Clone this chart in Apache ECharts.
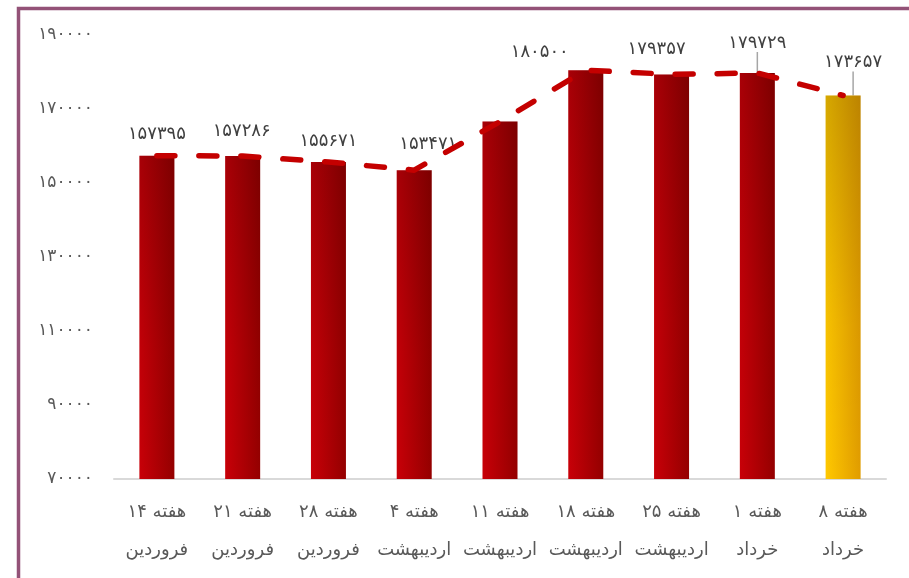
<!DOCTYPE html>
<html>
<head>
<meta charset="utf-8">
<script src="https://cdn.jsdelivr.net/npm/echarts@6/dist/echarts.min.js"></script>
<style>
html,body{margin:0;padding:0;background:#fff;}
#chart{width:909px;height:578px;}
</style>
</head>
<body>
<div id="chart"></div>
<script>
const categories = [
  'هفته ۱۴\nفروردین',
  'هفته ۲۱\nفروردین',
  'هفته ۲۸\nفروردین',
  'هفته ۴\nاردیبهشت',
  'هفته ۱۱\nاردیبهشت',
  'هفته ۱۸\nاردیبهشت',
  'هفته ۲۵\nاردیبهشت',
  'هفته ۱\nخرداد',
  'هفته ۸\nخرداد'
];
const weeklyValues = [157395, 157286, 155671, 153471, 166600, 180500, 179357, 179729, 173657];
const labelVisible = [true, true, true, true, false, true, true, true, true];
const yMin = 70000;
const yMax = 190000;
const yStep = 20000;

function toPersianDigits(v) {
  return String(v).replace(/[0-9]/g, d => String.fromCharCode(0x06F0 + Number(d)));
}

const FONT = 'DejaVu Sans';
const lastIndex = weeklyValues.length - 1;
const labelShift = [[0,-7],[-1,-11],[0,-7],[14,-12],[0,0],[-46,-4],[-15,-11],[0,-16],[10,-19]];
const leaderIdx = [7, 8];

const redGrad = {type:'linear', x:0, y:0, x2:1, y2:0, colorStops:[{offset:0,color:'#c80008'},{offset:1,color:'#940000'}]};
const goldGrad = {type:'linear', x:0, y:0, x2:1, y2:0, colorStops:[{offset:0,color:'#ffc800'},{offset:1,color:'#e09c00'}]};
const shadeGrad = {type:'linear', x:0, y:0, x2:0, y2:1, colorStops:[{offset:0,color:'rgba(0,0,0,0.16)'},{offset:0.6,color:'rgba(0,0,0,0.03)'},{offset:1,color:'rgba(0,0,0,0)'}]};

const barData = weeklyValues.map((v, i) => ({
  value: v,
  itemStyle: { color: i === lastIndex ? goldGrad : redGrad },
  label: { show: labelVisible[i] },
  labelLine: { show: leaderIdx.indexOf(i) >= 0 }
}));

const chart = echarts.init(document.getElementById('chart'), null, {renderer: 'canvas'});
chart.setOption({
  animation: false,
  backgroundColor: '#ffffff',
  graphic: [{
    type: 'rect',
    left: 16, top: 6,
    shape: { width: 1000, height: 1000 },
    style: { fill: 'none', stroke: '#935277', lineWidth: 3.5 },
    silent: true
  }],
  grid: { left: 114, right: 23, top: 35, bottom: 99, containLabel: false },
  xAxis: {
    type: 'category',
    data: categories,
    axisLine: { lineStyle: { color: '#d9d9d9', width: 2 } },
    axisTick: { show: false },
    axisLabel: { color: '#595959', fontFamily: FONT, fontSize: 18, lineHeight: 38, margin: 14, interval: 0 }
  },
  yAxis: {
    type: 'value',
    min: yMin, max: yMax, interval: yStep,
    axisLine: { show: false },
    axisTick: { show: false },
    splitLine: { show: false },
    axisLabel: { color: '#595959', fontFamily: FONT, fontSize: 17, margin: 21, formatter: v => toPersianDigits(v) }
  },
  series: [
    {
      type: 'bar',
      data: barData,
      barWidth: 35,
      barGap: '-100%',
      label: {
        show: true, position: 'top', distance: 5,
        color: '#404040', fontFamily: FONT, fontSize: 18,
        formatter: p => toPersianDigits(p.value)
      },
      labelLine: { show: false, lineStyle: { color: '#a6a6a6', width: 1.5 } },
      labelLayout: function (params) {
        const s = labelShift[params.dataIndex] || [0, 0];
        return { dx: s[0], dy: s[1] };
      },
      z: 2
    },
    {
      type: 'bar',
      data: weeklyValues,
      barWidth: 35,
      barGap: '-100%',
      silent: true,
      itemStyle: { color: shadeGrad },
      z: 3
    },
    {
      type: 'line',
      data: weeklyValues,
      showSymbol: false,
      symbol: 'none',
      smooth: false,
      lineStyle: { color: '#c40000', width: 5.5, type: [18, 24], cap: 'round', join: 'round' },
      z: 5
    }
  ]
});
</script>
</body>
</html>
